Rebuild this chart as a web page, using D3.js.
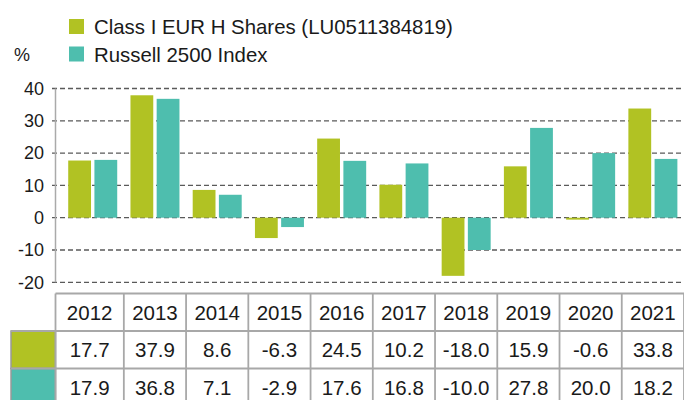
<!DOCTYPE html>
<html>
<head>
<meta charset="utf-8">
<script src="https://cdn.jsdelivr.net/npm/d3@7"></script>
<style>
  html, body { margin: 0; padding: 0; background: #fff; }
  svg { display: block; }
  text { font-family: "Liberation Sans", Arial, Helvetica, sans-serif; fill: #1a1a1a; }
</style>
</head>
<body>
<svg id="chart" width="684" height="400"></svg>
<script>
const years = ["2012","2013","2014","2015","2016","2017","2018","2019","2020","2021"];
const seriesNames = ["Class I EUR H Shares (LU0511384819)", "Russell 2500 Index"];
const fundValues = [17.7, 37.9, 8.6, -6.3, 24.5, 10.2, -18.0, 15.9, -0.6, 33.8];
const indexValues = [17.9, 36.8, 7.1, -2.9, 17.6, 16.8, -10.0, 27.8, 20.0, 18.2];
const yTicks = [-20, -10, 0, 10, 20, 30, 40];
const colors = ["#b1c223", "#4ebeae"];

const svg = d3.select("#chart");
const axisX = 55.5;
const plotRight = 684;

const x = d3.scaleBand().domain(years).range([61.6, plotRight]).paddingInner(0).paddingOuter(0);
const y = d3.scaleLinear().domain([-20, 40]).range([282.3, 88.5]);
const x1 = d3.scaleBand().domain([0, 1]).range([-24.5, 24.5]).paddingInner(0.13);

// gridlines
svg.append("g").selectAll("line").data(yTicks).join("line")
  .attr("x1", 52).attr("x2", plotRight)
  .attr("y1", d => y(d)).attr("y2", d => y(d))
  .attr("stroke", "#5a5a5a").attr("stroke-width", 1.3)
  .attr("stroke-dasharray", "5,3");

// y axis line
svg.append("line")
  .attr("x1", axisX).attr("x2", axisX)
  .attr("y1", y(40)).attr("y2", y(-20))
  .attr("stroke", "#aaa").attr("stroke-width", 1.5);

// y tick labels
svg.append("g").selectAll("text").data(yTicks).join("text")
  .attr("x", 44).attr("y", d => y(d)).attr("dy", "0.35em")
  .attr("text-anchor", "end").attr("font-size", 18)
  .text(d => d);

// % label
svg.append("text").attr("x", 14).attr("y", 61).attr("font-size", 18).text("%");

// bars
const data = years.map((yr, i) => ({ year: yr, vals: [fundValues[i], indexValues[i]] }));
const groups = svg.append("g").selectAll("g").data(data).join("g")
  .attr("transform", d => `translate(${x(d.year) + x.bandwidth() / 2},0)`);
groups.selectAll("rect").data(d => d.vals.map((v, k) => ({ v, k }))).join("rect")
  .attr("x", d => x1(d.k))
  .attr("width", x1.bandwidth())
  .attr("y", d => y(Math.max(0, d.v)))
  .attr("height", d => Math.abs(y(d.v) - y(0)))
  .attr("fill", d => colors[d.k]);

// legend
const legend = svg.append("g");
seriesNames.forEach((name, i) => {
  const ly = 34 + i * 27.5;
  legend.append("rect").attr("x", 69).attr("y", ly - 15).attr("width", 15).attr("height", 15).attr("fill", colors[i]);
  legend.append("text").attr("x", 94).attr("y", ly).attr("font-size", 20.4).text(name);
});

// table
const tTop = 293.5, rowH = 37.5;
const tbl = svg.append("g");
const colLeft = (i) => i === 0 ? axisX : x(years[i]);
const colRight = (i) => x(years[i]) + x.bandwidth();
const rowsData = [fundValues, indexValues];

// color cells
rowsData.forEach((_, r) => {
  tbl.append("rect")
    .attr("x", 11).attr("y", tTop + rowH * (r + 1))
    .attr("width", axisX - 11).attr("height", rowH)
    .attr("fill", colors[r]).attr("stroke", "#999").attr("stroke-width", 1.5);
});

// grid lines of the table
const lineColor = "#a8a8a8";
for (let r = 0; r <= 3; r++) {
  tbl.append("line")
    .attr("x1", r === 0 ? axisX : 11).attr("x2", plotRight)
    .attr("y1", tTop + rowH * r).attr("y2", tTop + rowH * r)
    .attr("stroke", lineColor).attr("stroke-width", 1.8);
}
const vxs = [axisX].concat(years.map((yr, i) => colRight(i)));
vxs.forEach(vx => {
  tbl.append("line")
    .attr("x1", vx).attr("x2", vx)
    .attr("y1", tTop).attr("y2", 400)
    .attr("stroke", lineColor).attr("stroke-width", 1.8);
});

// header texts
years.forEach((yr, i) => {
  const cx = (colLeft(i) + colRight(i)) / 2;
  tbl.append("text").attr("x", cx).attr("y", tTop + 26).attr("text-anchor", "middle")
    .attr("font-size", 20.5).text(yr);
  rowsData.forEach((vals, r) => {
    tbl.append("text").attr("x", cx).attr("y", tTop + rowH * (r + 1) + 26)
      .attr("text-anchor", "middle").attr("font-size", 20.5)
      .text(vals[i].toFixed(1));
  });
});
</script>
</body>
</html>
